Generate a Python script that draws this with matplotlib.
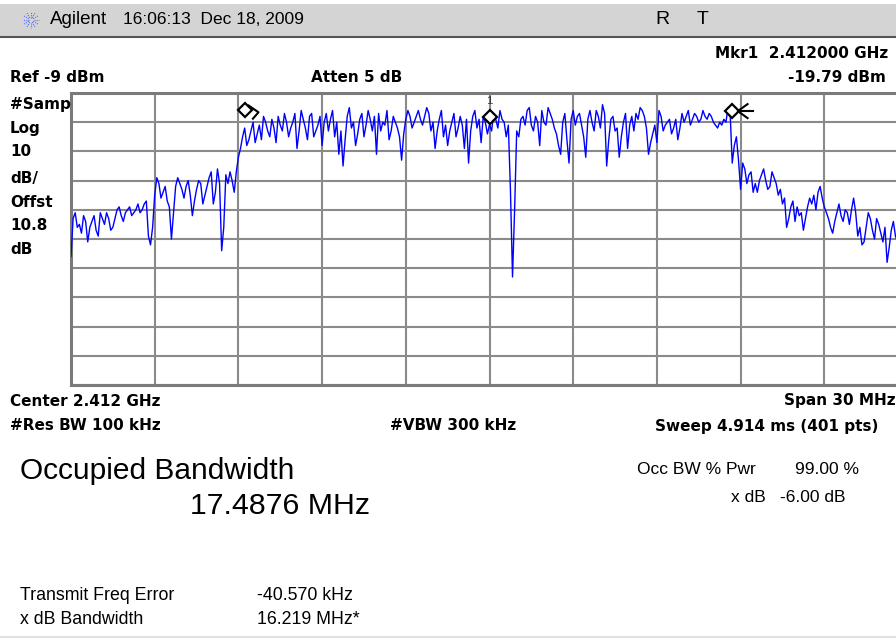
import numpy as np
import matplotlib
matplotlib.use("Agg")
import matplotlib.pyplot as plt
from matplotlib.patches import Rectangle
from matplotlib.lines import Line2D

# ---------------- data ----------------
center_ghz = 2.412
span_mhz = 30.0
ref_dbm = -9.0
db_per_div = 10.0

# trace (dBm), 401 sweep points from -15 MHz to +15 MHz
trace_dbm = [
    -65, -52, -50, -55, -54, -57, -51, -53, -60, -55,
    -53, -51, -56, -58, -50, -52, -54, -50, -52, -56,
    -55, -52, -49, -48, -51, -53, -50, -49, -48, -51,
    -50, -49, -47, -50, -49, -47, -46, -58, -61, -55,
    -44, -38, -40, -45, -43, -41, -46, -48, -59, -50,
    -41, -38, -40, -42, -45, -41, -39, -44, -51, -46,
    -42, -39, -40, -47, -44, -41, -38, -36, -47, -43,
    -35, -40, -63, -55, -37, -40, -36, -39, -43, -36,
    -31, -28, -24, -21, -27, -25, -22, -19, -26, -23,
    -20, -25, -17, -19, -22, -24, -18, -21, -26, -17,
    -20, -22, -16, -19, -24, -21, -19, -16, -28, -22,
    -15, -18, -21, -25, -17, -16, -24, -22, -20, -17,
    -27, -19, -16, -22, -18, -15, -24, -19, -30, -22,
    -34, -25, -17, -14, -21, -19, -27, -23, -18, -16,
    -24, -20, -15, -18, -22, -17, -30, -16, -22, -19,
    -20, -15, -25, -22, -17, -19, -21, -24, -32, -23,
    -18, -15, -17, -21, -19, -17, -15, -18, -20, -17,
    -14, -16, -22, -19, -28, -22, -18, -15, -24, -20,
    -27, -22, -19, -16, -24, -21, -17, -20, -28, -18,
    -33, -22, -17, -15, -21, -18, -26, -17, -19, -23,
    -19.8, -22, -16, -18, -21, -15, -18, -19, -24, -20,
    -42, -72, -49, -22, -24, -18, -17, -20, -15, -14,
    -20, -22, -17, -19, -27, -15, -19, -20, -14, -16,
    -18, -21, -23, -27, -30, -19, -16, -25, -33, -18,
    -15, -20, -17, -16, -20, -24, -31, -18, -15, -19,
    -22, -15, -17, -21, -13, -16, -34, -25, -18, -17,
    -22, -21, -31, -24, -19, -16, -28, -20, -17, -22,
    -16, -18, -14, -15, -17, -21, -30, -26, -23, -20,
    -26, -15, -17, -22, -20, -19, -18, -23, -21, -18,
    -25, -21, -16, -19, -17, -15, -20, -18, -16, -17,
    -19, -18, -15, -17, -18, -16, -17, -19, -20, -21,
    -19, -20, -18, -19, -14, -16, -33, -27, -24, -32,
    -42, -33, -35, -40, -37, -36, -43, -40, -43, -39,
    -37, -35, -39, -42, -41, -36, -38, -40, -44, -42,
    -47, -45, -55, -52, -48, -46, -53, -48, -51, -50,
    -56, -52, -48, -45, -47, -44, -49, -43, -41, -45,
    -48, -50, -52, -55, -57, -53, -50, -47, -51, -53,
    -49, -50, -54, -49, -45, -50, -58, -55, -61, -60,
    -55, -50, -52, -56, -59, -52, -54, -57, -60, -55,
    -67, -62, -56, -53, -58, -60, -55, -56, -60, -58,
    -57,
]
freq_offset_mhz = np.linspace(-span_mhz / 2, span_mhz / 2, len(trace_dbm))

# markers: occupied bandwidth edges and marker 1
obw_edges_mhz = [-8.78, 8.70]
obw_edge_dbm = [-14.8, -15.2]
mkr1_mhz = 0.0
mkr1_dbm = -17.2

# ---------------- figure ----------------
W, H = 896, 639
fig = plt.figure(figsize=(W / 100, H / 100), dpi=100)
fig.patch.set_facecolor("white")

def px(x, y):
    return x / W, 1 - y / H

BOLD = ["DejaVu Sans"]
REG = ["Liberation Sans", "DejaVu Sans"]

def T(x, y, s, size, bold=False, ha="left", family=None, color="black"):
    fam = family if family is not None else (BOLD if bold else REG)
    fig.text(*px(x, y), s, fontsize=size, ha=ha, va="center",
             fontweight="bold" if bold else "normal", family=fam, color=color)

# header bar
fig.patches.append(Rectangle(px(0, 36), 1, 32 / H, transform=fig.transFigure,
                             facecolor="#d4d4d4", edgecolor="none", zorder=0))
fig.lines.append(Line2D([0, 1], [1 - 36.5 / H] * 2, transform=fig.transFigure,
                        color="#555555", linewidth=1.5))
# agilent spark logo
cx, cy = 31, 20
for a in np.arange(0, 360, 30):
    r = np.deg2rad(a)
    fig.lines.append(Line2D([(cx + 2.5 * np.cos(r)) / W, (cx + 8 * np.cos(r)) / W],
                            [1 - (cy + 2.5 * np.sin(r)) / H, 1 - (cy + 8 * np.sin(r)) / H],
                            transform=fig.transFigure, color="#5a6ef0",
                            linewidth=0.8, linestyle=(0, (1, 1))))
T(50, 20, "Agilent", 13.5, family=REG)
T(123, 20, "16:06:13  Dec 18, 2009", 12.5, family=REG)
T(655, 20, "R", 14, family=REG)
T(697, 20, "T", 14, family=REG)

# top info
T(888, 53, "Mkr1  2.412000 GHz", 11, bold=True, ha="right")
T(10, 78, "Ref -9 dBm", 11, bold=True)
T(311, 78, "Atten 5 dB", 11, bold=True)
T(886, 78, "-19.79 dBm", 11, bold=True, ha="right")
for yy, s in zip([104, 128, 152, 178, 203, 226, 249],
                 ["#Samp", "Log", "10", "dB/", "Offst", "10.8", "dB"]):
    T(10, yy, s, 11, bold=True)

# ---------------- axes ----------------
ax = fig.add_axes([71 / W, 1 - 385 / H, 837 / W, 292 / H])
ax.plot(freq_offset_mhz, trace_dbm, color="#0000ff", linewidth=1.0, zorder=3)
ax.set_xlim(-span_mhz / 2, span_mhz / 2)
ax.set_ylim(ref_dbm - 10 * db_per_div, ref_dbm)
ax.set_xticks(np.linspace(-span_mhz / 2, span_mhz / 2, 11))
ax.set_yticks(np.linspace(ref_dbm - 10 * db_per_div, ref_dbm, 11))
ax.tick_params(length=0, labelbottom=False, labelleft=False)
ax.grid(True, color="#8a8a8a", linewidth=1.5)
ax.set_axisbelow(True)
for sp in ax.spines.values():
    sp.set_color("#7a7a7a")
    sp.set_linewidth(2.2)

# markers
ax.plot(obw_edges_mhz + [mkr1_mhz], obw_edge_dbm + [mkr1_dbm], linestyle="none",
        marker="D", markersize=7, markerfacecolor="white", markeredgecolor="black",
        markeredgewidth=1.6, zorder=5)
# little arrow shapes next to OBW markers
ax.plot([obw_edges_mhz[0] + 0.15, obw_edges_mhz[0] + 0.5, obw_edges_mhz[0] + 0.3],
        [obw_edge_dbm[0] + 1.5, obw_edge_dbm[0] - 0.8, obw_edge_dbm[0] - 3.0],
        color="black", linewidth=1.5, zorder=5)
ax.plot([obw_edges_mhz[1] + 0.55, obw_edges_mhz[1] + 0.2, obw_edges_mhz[1] + 0.55],
        [obw_edge_dbm[1] + 2.4, obw_edge_dbm[1], obw_edge_dbm[1] - 2.4],
        color="black", linewidth=1.5, zorder=5)
ax.plot([obw_edges_mhz[1] + 0.2, obw_edges_mhz[1] + 0.75],
        [obw_edge_dbm[1], obw_edge_dbm[1]], color="black", linewidth=1.5, zorder=5)
ax.text(mkr1_mhz, mkr1_dbm + 5.5, "1", fontsize=8, ha="center", va="center",
        color="#333333", family=REG)

# bottom info
T(10, 401, "Center 2.412 GHz", 11, bold=True)
T(784, 401, "Span 30 MHz", 11, bold=True)
T(10, 426, "#Res BW 100 kHz", 11, bold=True)
T(390, 426, "#VBW 300 kHz", 11, bold=True)
T(655, 426, "Sweep 4.914 ms (401 pts)", 11, bold=True)

T(20, 471, "Occupied Bandwidth", 21.5)
T(190, 506, "17.4876 MHz", 21.8)
T(637, 469, "Occ BW % Pwr", 12.5)
T(795, 469, "99.00 %", 12.5)
T(766, 497, "x dB", 12.5, ha="right")
T(780, 497, "-6.00 dB", 12.5)
T(20, 595, "Transmit Freq Error", 12.8)
T(257, 595, "-40.570 kHz", 12.8)
T(20, 620, "x dB Bandwidth", 12.8)
T(257, 620, "16.219 MHz*", 12.8)

fig.lines.append(Line2D([0, 1], [1 - 637 / H] * 2, transform=fig.transFigure,
                        color="#e0e0e0", linewidth=1.5))

fig.savefig("out.png", dpi=100)
